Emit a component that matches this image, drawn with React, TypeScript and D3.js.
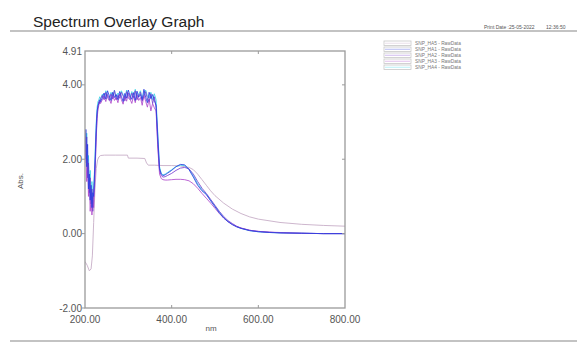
import React from "react";
import * as d3 from "d3";

const W = 577;
const H = 343;

const TITLE = "Spectrum Overlay Graph";
const PRINT_LABEL = "Print Date :";
const PRINT_DATE = "25-05-2022";
const PRINT_TIME = "12:36:50";
const X_LABEL = "nm";
const Y_LABEL = "Abs.";

const X_TICKS = [200, 400, 600, 800];
const Y_TICKS = [-2, 0, 2, 4, 4.91];

const SERIES_NAMES = ["SNP_HA5 - RawData", "SNP_HA1 - RawData", "SNP_HA2 - RawData", "SNP_HA3 - RawData", "SNP_HA4 - RawData"];
const SERIES_COLORS = ["#c4a9c4", "#2b3de0", "#7a3fd0", "#b04ccc", "#3cd6e6"];

// HA5: low plateau series
const HA5_WL = [200, 205, 210, 214, 217, 220, 223, 226, 229, 232, 236, 245, 270, 298, 300, 320, 338, 342, 346, 360, 380, 400, 420, 440, 450, 460, 470, 480, 490, 500, 520, 540, 560, 580, 600, 650, 700, 750, 800];
const HA5_VAL = [-0.75, -0.85, -1.0, -0.95, -0.6, 0.3, 1.2, 1.75, 1.98, 2.06, 2.1, 2.11, 2.11, 2.11, 2.03, 2.03, 2.02, 1.9, 1.84, 1.84, 1.83, 1.83, 1.82, 1.78, 1.72, 1.6, 1.45, 1.3, 1.15, 1.02, 0.82, 0.66, 0.54, 0.45, 0.39, 0.3, 0.25, 0.22, 0.2];

// common wavelength grid for the four saturated series
const WL = [200, 202, 204, 206, 208, 210, 212, 214, 216, 218, 220, 222, 224, 226, 228, 230, 232, 234, 236,
  240, 244, 248, 252, 256, 260, 264, 268, 272, 276, 280, 284, 288, 292, 296, 300, 304, 308, 312, 316, 320, 324, 328, 332, 336, 340, 344, 348, 352, 356, 360, 364,
  368, 372, 376, 380, 385, 390,
  400, 410, 420, 430, 440, 450, 460, 470, 480, 490, 500, 510, 520, 530, 540, 550, 560,
  580, 600, 625, 650, 700, 750, 800];

const HA1_VAL = [2.2, 2.8, 1.8, 2.4, 1.2, 1.6, 0.9, 1.3, 0.7, 1.1, 1.0, 1.6, 2.2, 2.9, 3.3, 3.45, 3.5, 3.6, 3.55,
  3.65, 3.78, 3.62, 3.84, 3.7, 3.58, 3.8, 3.66, 3.74, 3.6, 3.82, 3.69, 3.55, 3.77, 3.64, 3.86, 3.7, 3.61, 3.79, 3.58, 3.83, 3.67, 3.74, 3.6, 3.88, 3.66, 3.52, 3.8, 3.63, 3.74, 3.58, 3.45,
  2.6, 1.75, 1.6, 1.56, 1.58, 1.62,
  1.7, 1.8, 1.86, 1.85, 1.72, 1.52, 1.3, 1.15, 1.05, 0.88, 0.72, 0.56, 0.42, 0.32, 0.24, 0.18, 0.14,
  0.08, 0.05, 0.03, 0.02, 0.01, 0.0, 0.0];

const HA2_VAL = [2.5, 2.0, 2.6, 1.5, 1.9, 1.1, 1.5, 0.8, 1.2, 0.6, 1.1, 1.4, 2.0, 2.7, 3.2, 3.4, 3.55, 3.5, 3.62,
  3.72, 3.6, 3.8, 3.66, 3.58, 3.76, 3.62, 3.85, 3.6, 3.72, 3.64, 3.8, 3.7, 3.57, 3.82, 3.65, 3.6, 3.78, 3.66, 3.84, 3.6, 3.7, 3.8, 3.56, 3.7, 3.82, 3.62, 3.55, 3.76, 3.5, 3.68, 3.4,
  2.4, 1.7, 1.56, 1.52, 1.53, 1.56,
  1.62, 1.7, 1.76, 1.78, 1.74, 1.6, 1.4, 1.22, 1.08, 0.92, 0.76, 0.6, 0.46, 0.35, 0.27, 0.2, 0.15,
  0.09, 0.06, 0.04, 0.02, 0.01, 0.0, 0.0];

const HA3_VAL = [1.9, 2.4, 1.4, 2.0, 1.0, 1.4, 0.6, 1.0, 0.5, 0.9, 0.7, 1.2, 1.9, 2.6, 3.1, 3.35, 3.45, 3.55, 3.5,
  3.6, 3.7, 3.55, 3.74, 3.62, 3.5, 3.72, 3.58, 3.66, 3.52, 3.75, 3.6, 3.48, 3.7, 3.56, 3.78, 3.62, 3.5, 3.7, 3.52, 3.74, 3.58, 3.66, 3.45, 3.72, 3.56, 3.4, 3.62, 3.3, 3.5, 3.38, 3.3,
  2.3, 1.6, 1.48, 1.45, 1.44, 1.44,
  1.45, 1.46, 1.46, 1.45, 1.42, 1.34, 1.22, 1.08, 0.95, 0.82, 0.68, 0.54, 0.42, 0.32, 0.25, 0.19, 0.15,
  0.09, 0.06, 0.04, 0.03, 0.01, 0.0, 0.0];

const HA4_VAL = [2.6, 2.1, 2.7, 1.7, 2.1, 1.3, 1.7, 1.0, 1.4, 0.8, 1.3, 1.7, 2.4, 3.0, 3.4, 3.55, 3.6, 3.68, 3.62,
  3.75, 3.66, 3.84, 3.72, 3.64, 3.8, 3.7, 3.86, 3.66, 3.78, 3.7, 3.84, 3.74, 3.64, 3.86, 3.72, 3.68, 3.82, 3.72, 3.88, 3.66, 3.76, 3.84, 3.64, 3.78, 3.86, 3.7, 3.64, 3.8, 3.6, 3.76, 3.6,
  2.7, 1.8, 1.62, 1.58, 1.6, 1.64,
  1.72, 1.8, 1.84, 1.83, 1.74, 1.56, 1.34, 1.18, 1.06, 0.9, 0.74, 0.58, 0.44, 0.33, 0.25, 0.19, 0.14,
  0.08, 0.05, 0.03, 0.02, 0.01, 0.0, 0.0];

const PLOT = { left: 85, right: 345, top: 51, bottom: 308 };

export default function App() {
  const x = d3.scaleLinear().domain([200, 800]).range([PLOT.left, PLOT.right]);
  const y = d3.scaleLinear().domain([-2, 4.91]).range([PLOT.bottom, PLOT.top]);
  const line = d3
    .line<[number, number]>()
    .x((d) => x(d[0]))
    .y((d) => y(d[1]));

  const series: { name: string; color: string; pts: [number, number][] }[] = [
    { name: SERIES_NAMES[0], color: SERIES_COLORS[0], pts: HA5_WL.map((w, i) => [w, HA5_VAL[i]]) },
    { name: SERIES_NAMES[1], color: SERIES_COLORS[1], pts: WL.map((w, i) => [w, HA1_VAL[i]]) },
    { name: SERIES_NAMES[2], color: SERIES_COLORS[2], pts: WL.map((w, i) => [w, HA2_VAL[i]]) },
    { name: SERIES_NAMES[3], color: SERIES_COLORS[3], pts: WL.map((w, i) => [w, HA3_VAL[i]]) },
    { name: SERIES_NAMES[4], color: SERIES_COLORS[4], pts: WL.map((w, i) => [w, HA4_VAL[i]]) },
  ];
  const drawOrder = [0, 4, 3, 2, 1];

  const axisColor = "#9a9a9a";
  const textColor = "#555";
  const font = "Liberation Sans, Arial, sans-serif";

  return (
    <svg
      width={W}
      height={H}
      style={{ position: "absolute", left: 0, top: 0, background: "#fff" }}
      fontFamily={font}
    >
      <rect x={0} y={0} width={W} height={H} fill="#fff" />
      {/* header */}
      <text x={33} y={27} fontSize={15.5} fill="#222">{TITLE}</text>
      <text x={484} y={29} fontSize={5} fill={textColor}>{PRINT_LABEL}</text>
      <text x={509} y={29} fontSize={5} fill={textColor}>{PRINT_DATE}</text>
      <text x={546} y={29} fontSize={5} fill={textColor}>{PRINT_TIME}</text>
      <line x1={10} x2={W} y1={31} y2={31} stroke="#888" strokeWidth={1.2} />
      <line x1={10} x2={W} y1={341} y2={341} stroke="#888" strokeWidth={1.2} />

      {/* legend */}
      {series.map((s, i) => (
        <g key={s.name} transform={`translate(384, ${41 + i * 6})`}>
          <rect x={0} y={0} width={27} height={4.5} fill="#fff" stroke="#c8c8c8" strokeWidth={0.8} />
          <line x1={1} x2={26} y1={2.25} y2={2.25} stroke={s.color} strokeOpacity={0.35} strokeWidth={1} />
          <text x={31} y={4.3} fontSize={4.8} fill="#777">{s.name}</text>
        </g>
      ))}

      <defs>
        <clipPath id="plotclip">
          <rect x={PLOT.left} y={PLOT.top} width={PLOT.right - PLOT.left} height={PLOT.bottom - PLOT.top} />
        </clipPath>
      </defs>

      {/* series */}
      <g clipPath="url(#plotclip)">
        {drawOrder.map((i) => (
          <path key={i} d={line(series[i].pts) || ""} fill="none" stroke={series[i].color} strokeWidth={1} strokeOpacity={0.85} />
        ))}
      </g>

      {/* frame */}
      <rect x={PLOT.left} y={PLOT.top} width={PLOT.right - PLOT.left} height={PLOT.bottom - PLOT.top} fill="none" stroke={axisColor} strokeWidth={1.3} />

      {/* y ticks */}
      {Y_TICKS.map((t) => (
        <g key={t}>
          {t !== 4.91 && <line x1={PLOT.left - 3} x2={PLOT.left} y1={y(t)} y2={y(t)} stroke={axisColor} strokeWidth={1} />}
          {t !== 4.91 && t !== -2 && <line x1={PLOT.right - 3} x2={PLOT.right} y1={y(t)} y2={y(t)} stroke={axisColor} strokeWidth={1} />}
          <text x={PLOT.left - 3} y={y(t)} dy="0.35em" textAnchor="end" fontSize={10} fill={textColor}>
            {t.toFixed(2)}
          </text>
        </g>
      ))}

      {/* x ticks */}
      {X_TICKS.map((t) => (
        <g key={t}>
          {t !== 200 && t !== 800 && (
            <>
              <line x1={x(t)} x2={x(t)} y1={PLOT.bottom} y2={PLOT.bottom - 3} stroke={axisColor} strokeWidth={1} />
              <line x1={x(t)} x2={x(t)} y1={PLOT.top} y2={PLOT.top + 3} stroke={axisColor} strokeWidth={1} />
            </>
          )}
          <text x={x(t)} y={323} textAnchor="middle" fontSize={10} fill={textColor}>
            {t.toFixed(2)}
          </text>
        </g>
      ))}

      <text x={211} y={331} textAnchor="middle" fontSize={8} fill={textColor}>{X_LABEL}</text>
      <text transform={`translate(23, 181) rotate(-90)`} textAnchor="middle" fontSize={8} fill={textColor}>{Y_LABEL}</text>
    </svg>
  );
}
